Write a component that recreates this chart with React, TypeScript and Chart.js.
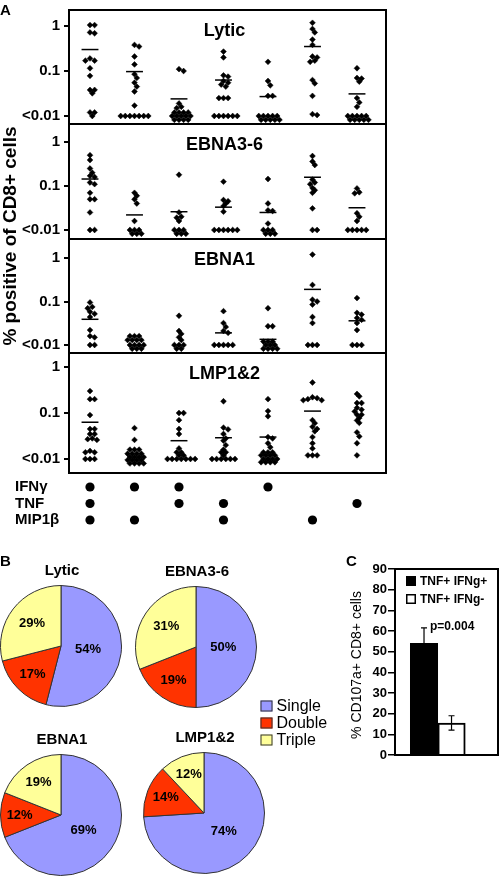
import React, { useEffect, useRef } from 'react';
import { Chart, registerables } from 'chart.js';

Chart.register(...registerables);

const FONT = "'Liberation Sans', Arial, Helvetica, sans-serif";

// ================= Panel A data =================
const columnIds = [0, 1, 2, 3, 4, 5, 6];
const panelTitles = ['Lytic', 'EBNA3-6', 'EBNA1', 'LMP1&2'];

const lyticValues: number[][] = [
  [1.05, 1.05, 0.72, 0.69, 0.19, 0.17, 0.17, 0.115, 0.078, 0.038, 0.038, 0.032, 0.012, 0.012, 0.01],
  [0.38, 0.35, 0.21, 0.14, 0.085, 0.07, 0.055, 0.045, 0.035, 0.017, 0.01, 0.01, 0.01, 0.01, 0.01, 0.01, 0.01],
  [0.11, 0.1, 0.019, 0.016, 0.015, 0.012, 0.012, 0.012, 0.012, 0.01, 0.01, 0.01, 0.01, 0.01, 0.0082, 0.0082, 0.0082, 0.0082],
  [0.27, 0.2, 0.08, 0.075, 0.06, 0.055, 0.05, 0.045, 0.025, 0.025, 0.025, 0.01, 0.01, 0.01, 0.01, 0.01, 0.01],
  [0.16, 0.06, 0.048, 0.028, 0.028, 0.01, 0.01, 0.01, 0.01, 0.01, 0.0082, 0.0082, 0.0082, 0.0082, 0.0082],
  [1.18, 0.86, 0.72, 0.5, 0.38, 0.21, 0.2, 0.17, 0.16, 0.063, 0.053, 0.028, 0.011, 0.0105],
  [0.115, 0.07, 0.068, 0.058, 0.025, 0.02, 0.016, 0.01, 0.01, 0.01, 0.01, 0.01, 0.0082, 0.0082, 0.0082, 0.0082, 0.0082],
];
const lyticMeans = [0.3, 0.097, 0.024, 0.063, 0.027, 0.35, 0.031];

const ebna36Values: number[][] = [
  [0.5, 0.39, 0.25, 0.2, 0.17, 0.16, 0.12, 0.11, 0.07, 0.05, 0.05, 0.025, 0.01, 0.01],
  [0.07, 0.06, 0.05, 0.04, 0.016, 0.01, 0.01, 0.01, 0.0082, 0.0082, 0.0082],
  [0.18, 0.025, 0.02, 0.019, 0.016, 0.01, 0.01, 0.01, 0.0082, 0.0082, 0.0082],
  [0.125, 0.048, 0.045, 0.04, 0.035, 0.026, 0.01, 0.01, 0.01, 0.01, 0.01, 0.01],
  [0.144, 0.04, 0.028, 0.027, 0.014, 0.01, 0.01, 0.01, 0.0082, 0.0082, 0.0082],
  [0.48, 0.36, 0.3, 0.14, 0.12, 0.11, 0.09, 0.08, 0.07, 0.031, 0.01, 0.01],
  [0.088, 0.072, 0.068, 0.024, 0.02, 0.016, 0.01, 0.01, 0.01, 0.01, 0.01],
];
const ebna36Means = [0.144, 0.022, 0.026, 0.033, 0.025, 0.158, 0.032];

const ebna1Values: number[][] = [
  [0.095, 0.075, 0.07, 0.058, 0.052, 0.044, 0.022, 0.016, 0.015, 0.01, 0.01],
  [0.016, 0.016, 0.016, 0.013, 0.013, 0.013, 0.013, 0.01, 0.01, 0.01, 0.01, 0.0082, 0.0082, 0.0082],
  [0.047, 0.021, 0.018, 0.015, 0.013, 0.01, 0.01, 0.01, 0.0082, 0.0082],
  [0.06, 0.032, 0.026, 0.021, 0.019, 0.01, 0.01, 0.01, 0.01, 0.01],
  [0.07, 0.027, 0.027, 0.012, 0.012, 0.012, 0.01, 0.01, 0.01, 0.0082, 0.0082, 0.0082, 0.0082],
  [1.2, 0.24, 0.11, 0.1, 0.085, 0.044, 0.032, 0.01, 0.01, 0.01],
  [0.12, 0.055, 0.05, 0.042, 0.038, 0.032, 0.022, 0.01, 0.01, 0.01],
];
const ebna1Means: (number | null)[] = [0.039, null, null, 0.019, 0.0135, 0.19, 0.036];

const lmpValues: number[][] = [
  [0.3, 0.2, 0.2, 0.09, 0.045, 0.045, 0.035, 0.035, 0.028, 0.027, 0.026, 0.015, 0.014, 0.014, 0.01, 0.01, 0.01],
  [0.047, 0.026, 0.016, 0.016, 0.016, 0.013, 0.013, 0.013, 0.013, 0.011, 0.011, 0.011, 0.011, 0.0095, 0.0095, 0.0095, 0.0095, 0.008, 0.008, 0.008, 0.008],
  [0.1, 0.1, 0.07, 0.045, 0.035, 0.017, 0.014, 0.014, 0.012, 0.012, 0.01, 0.01, 0.01, 0.01, 0.01, 0.01, 0.01],
  [0.18, 0.048, 0.044, 0.035, 0.028, 0.025, 0.02, 0.016, 0.014, 0.014, 0.012, 0.01, 0.01, 0.01, 0.01, 0.01, 0.01],
  [0.2, 0.11, 0.085, 0.03, 0.028, 0.022, 0.018, 0.014, 0.014, 0.014, 0.012, 0.012, 0.012, 0.012, 0.01, 0.01, 0.01, 0.01, 0.0085, 0.0085, 0.0085, 0.0085],
  [0.46, 0.22, 0.21, 0.2, 0.19, 0.19, 0.07, 0.06, 0.05, 0.045, 0.04, 0.03, 0.022, 0.017, 0.012, 0.012, 0.012],
  [0.26, 0.23, 0.165, 0.165, 0.13, 0.118, 0.108, 0.092, 0.092, 0.078, 0.069, 0.061, 0.038, 0.031, 0.022, 0.012],
];
const lmpMeans: (number | null)[] = [0.063, null, 0.025, 0.029, 0.03, 0.11, null];

const yTickValues = [0.01, 0.1, 1];
const yTickLabels = ['<0.01', '0.1', '1'];

// cytokine matrix below panel A
const cytokineNames = ['IFNγ', 'TNF', 'MIP1β'];
const ifngPresent = [1, 1, 1, 0, 1, 0, 0];
const tnfPresent = [1, 0, 1, 1, 0, 0, 1];
const mip1bPresent = [1, 1, 0, 1, 0, 1, 0];

// ================= Panel B data =================
const pieTitles = ['Lytic', 'EBNA3-6', 'EBNA1', 'LMP1&2'];
const fractionLabels = ['Single', 'Double', 'Triple'];
const singlePct = [54, 50, 69, 74];
const doublePct = [17, 19, 12, 14];
const triplePct = [29, 31, 19, 12];
const fractionColors = ['#9999ff', '#ff3300', '#ffff99'];

// ================= Panel C data =================
const barLabels = ['TNF+ IFNg+', 'TNF+ IFNg-'];
const barValues = [54, 15.5];
const barErrors = [7.5, 3.5];
const pValueText = 'p=0.004';

// ================= layout =================
const panelValues = [lyticValues, ebna36Values, ebna1Values, lmpValues];
const panelMeans = [lyticMeans, ebna36Means, ebna1Means, lmpMeans];
const PANEL_TOP = [10, 124, 239, 353];
const PANEL_BOTTOM = [124, 239, 353, 473];
const panelLogMax = [0.356, 0.409, 0.437, 0.304];
const panelLogMin = [-2.178, -2.205, -2.184, -2.304];
const X_MIN = -0.472;
const X_MAX = 6.652;
const PLOT_LEFT = 69;
const PLOT_RIGHT = 386;
const A_CANVAS_W = 400;
const A_PAD = 14;
const HALF_STEP = 2.3;
const MIN_SEP = 4.5;

const PIE_CENTERS = [
  [61, 646],
  [195.5, 646.5],
  [61, 815],
  [204, 813],
];
const PIE_HALF = 61;

function swarm(values: number[][], logMin: number, logMax: number, height: number) {
  const pxPerDecade = height / (logMax - logMin);
  const pxPerX = (PLOT_RIGHT - PLOT_LEFT) / (X_MAX - X_MIN);
  const pts: { x: number; y: number }[] = [];
  values.forEach((col, i) => {
    const placed: { dx: number; py: number }[] = [];
    [...col]
      .sort((a, b) => b - a)
      .forEach((v) => {
        const py = -Math.log10(v) * pxPerDecade;
        let dx = 0;
        for (let n = 0; n < 100; n++) {
          const c = n === 0 ? 0 : (n % 2 ? 1 : -1) * Math.ceil(n / 2) * HALF_STEP;
          if (placed.every((q) => Math.abs(q.dx - c) + Math.abs(q.py - py) >= MIN_SEP)) {
            dx = c;
            break;
          }
        }
        placed.push({ dx, py });
        pts.push({ x: columnIds[i] + dx / pxPerX, y: v });
      });
  });
  return pts;
}

function tickLabel(v: number) {
  const idx = yTickValues.findIndex((t) => Math.abs(Math.log10(t) - Math.log10(v)) < 1e-6);
  return idx < 0 ? '' : yTickLabels[idx];
}

const baseOpts = {
  responsive: false,
  animation: false as const,
  devicePixelRatio: 1,
  events: [] as any[],
};

function panelAConfig(p: number): any {
  const top = PANEL_TOP[p];
  const h = PANEL_BOTTOM[p] - top;
  const pts = swarm(panelValues[p], panelLogMin[p], panelLogMax[p], h);
  const datasets: any[] = [
    {
      type: 'scatter',
      data: pts,
      pointStyle: 'rectRot',
      pointRadius: 2.9,
      pointBackgroundColor: '#000',
      pointBorderColor: '#000',
      pointBorderWidth: 0.5,
      order: 0,
      clip: false,
    },
  ];
  panelMeans[p].forEach((m, i) => {
    if (m == null) return;
    datasets.push({
      type: 'line',
      data: [
        { x: columnIds[i] - 0.19, y: m },
        { x: columnIds[i] + 0.19, y: m },
      ],
      borderColor: '#000',
      borderWidth: 1.5,
      pointRadius: 0,
      order: 1,
      clip: false,
    });
  });
  const title = panelTitles[p];
  return {
    type: 'scatter',
    data: { datasets },
    options: {
      ...baseOpts,
      layout: { padding: { left: 0, right: A_CANVAS_W - PLOT_RIGHT, top: A_PAD, bottom: A_PAD } },
      plugins: { legend: { display: false }, tooltip: { enabled: false }, title: { display: false } },
      scales: {
        x: { type: 'linear', min: X_MIN, max: X_MAX, display: false },
        y: {
          type: 'logarithmic',
          min: Math.pow(10, panelLogMin[p]),
          max: Math.pow(10, panelLogMax[p]),
          afterBuildTicks: (s: any) => {
            s.ticks = yTickValues.map((v) => ({ value: v }));
          },
          afterFit: (s: any) => {
            s.width = PLOT_LEFT;
          },
          ticks: {
            callback: (v: any) => tickLabel(Number(v)),
            font: { family: FONT, size: 15, weight: 'bold' },
            color: '#000',
            padding: 4,
            autoSkip: false,
          },
          grid: { drawOnChartArea: false, drawTicks: true, tickLength: 5, color: '#000', lineWidth: 2 },
          border: { display: false },
        },
      },
    },
    plugins: [
      {
        id: 'panelBox',
        afterDraw(chart: any) {
          const { ctx, chartArea } = chart;
          const { left, right, top: t, bottom } = chartArea;
          ctx.save();
          ctx.strokeStyle = '#000';
          ctx.lineWidth = 2;
          ctx.strokeRect(left, t, right - left, bottom - t);
          ctx.fillStyle = '#000';
          ctx.font = `bold 18px ${FONT}`;
          ctx.textAlign = 'center';
          ctx.textBaseline = 'alphabetic';
          ctx.fillText(title, (left + right) / 2 - 3, t + 26);
          ctx.restore();
        },
      },
    ],
  };
}

function dotConfig(): any {
  const rows = [ifngPresent, tnfPresent, mip1bPresent];
  const pts: { x: number; y: number }[] = [];
  rows.forEach((row, r) => {
    row.forEach((on, c) => {
      if (on) pts.push({ x: columnIds[c], y: r });
    });
  });
  return {
    type: 'scatter',
    data: {
      datasets: [
        {
          data: pts,
          pointStyle: 'circle',
          pointRadius: 4.6,
          pointBackgroundColor: '#000',
          pointBorderColor: '#000',
          pointBorderWidth: 0,
          clip: false,
        },
      ],
    },
    options: {
      ...baseOpts,
      layout: { padding: { left: 15, right: A_CANVAS_W - PLOT_RIGHT, top: 23.75, bottom: 21.75 } },
      plugins: { legend: { display: false }, tooltip: { enabled: false } },
      scales: {
        x: { type: 'linear', min: X_MIN, max: X_MAX, display: false },
        y: {
          type: 'linear',
          reverse: true,
          min: -0.5,
          max: 2.5,
          afterBuildTicks: (s: any) => {
            s.ticks = cytokineNames.map((_, i) => ({ value: i }));
          },
          afterFit: (s: any) => {
            s.width = PLOT_LEFT - 15;
          },
          ticks: {
            callback: (v: any) => cytokineNames[Math.round(Number(v))] ?? '',
            crossAlign: 'far',
            font: { family: FONT, size: 15, weight: 'bold' },
            color: '#000',
            padding: 0,
            autoSkip: false,
          },
          grid: { display: false },
          border: { display: false },
        },
      },
    },
  };
}

function pieConfig(i: number): any {
  const withLegend = i === 1;
  const title = pieTitles[i];
  const plugins: any[] = [
    {
      id: 'pieText',
      afterDatasetsDraw(chart: any) {
        const { ctx, chartArea } = chart;
        ctx.save();
        ctx.fillStyle = '#000';
        ctx.font = `bold 15px ${FONT}`;
        ctx.textAlign = 'center';
        ctx.textBaseline = 'alphabetic';
        ctx.fillText(title, (chartArea.left + chartArea.right) / 2 + 1, chartArea.top - 10);
        const meta = chart.getDatasetMeta(0);
        const vals = chart.data.datasets[0].data as number[];
        ctx.font = `bold 13px ${FONT}`;
        ctx.textBaseline = 'middle';
        meta.data.forEach((el: any, k: number) => {
          const { startAngle, endAngle, outerRadius, x, y } = el.getProps(
            ['startAngle', 'endAngle', 'outerRadius', 'x', 'y'],
            true
          );
          const a = endAngle - startAngle;
          const mid = (startAngle + endAngle) / 2;
          let f = ((4 * Math.sin(a / 2)) / (3 * a)) * 1.05;
          f = Math.min(0.7, Math.max(0.45, f));
          const d = f * outerRadius;
          ctx.fillText(vals[k] + '%', x + Math.cos(mid) * d, y + Math.sin(mid) * d);
        });
        if (withLegend) {
          const lx = chartArea.right + 3.5;
          const ly = chartArea.top + 120;
          ctx.font = `16px ${FONT}`;
          ctx.textAlign = 'left';
          fractionLabels.forEach((lab, k) => {
            const cy = ly + k * 17;
            ctx.fillStyle = fractionColors[k];
            ctx.fillRect(lx, cy - 5.5, 12, 11);
            ctx.strokeStyle = '#333';
            ctx.lineWidth = 1;
            ctx.strokeRect(lx + 0.5, cy - 5, 11, 10);
            ctx.fillStyle = '#000';
            ctx.fillText(lab, lx + 16, cy + 1);
          });
        }
        ctx.restore();
      },
    },
  ];
  return {
    type: 'pie',
    data: {
      labels: fractionLabels,
      datasets: [
        {
          data: [singlePct[i], doublePct[i], triplePct[i]],
          backgroundColor: fractionColors,
          borderColor: '#333',
          borderWidth: 1,
        },
      ],
    },
    options: {
      ...baseOpts,
      layout: { padding: { left: 5, right: withLegend ? 80 : 5, top: 30, bottom: withLegend ? 45 : 5 } },
      plugins: { legend: { display: false }, tooltip: { enabled: false } },
    },
    plugins,
  };
}

function barConfig(): any {
  return {
    type: 'bar',
    data: {
      datasets: [
        {
          data: barValues.map((v, i) => ({ x: i + 1, y: v })),
          backgroundColor: ['#000', '#fff'],
          borderColor: '#000',
          borderWidth: 2,
          barPercentage: 1,
          categoryPercentage: 1,
        },
      ],
    },
    options: {
      ...baseOpts,
      layout: { padding: { left: 0, right: 2, top: 24, bottom: 20 } },
      plugins: { legend: { display: false }, tooltip: { enabled: false } },
      scales: {
        x: { type: 'linear', min: -0.055, max: 3.69, offset: false, display: false },
        y: {
          type: 'linear',
          min: 0,
          max: 90,
          afterFit: (s: any) => {
            s.width = 55;
          },
          ticks: {
            stepSize: 10,
            font: { family: FONT, size: 13, weight: 'bold' },
            color: '#000',
            padding: 1,
          },
          grid: { drawOnChartArea: false, drawTicks: true, tickLength: 7, color: '#000', lineWidth: 1.5 },
          border: { display: false },
        },
      },
    },
    plugins: [
      {
        id: 'barExtras',
        afterDatasetsDraw(chart: any) {
          const { ctx, chartArea } = chart;
          const ys = chart.scales.y;
          const meta = chart.getDatasetMeta(0);
          ctx.save();
          ctx.strokeStyle = '#000';
          ctx.lineWidth = 1.2;
          meta.data.forEach((el: any, i: number) => {
            const yt = ys.getPixelForValue(barValues[i] + barErrors[i]);
            const yb = ys.getPixelForValue(barValues[i] - barErrors[i]);
            ctx.beginPath();
            ctx.moveTo(el.x, yt);
            ctx.lineTo(el.x, yb);
            ctx.moveTo(el.x - 3, yt);
            ctx.lineTo(el.x + 3, yt);
            ctx.moveTo(el.x - 3, yb);
            ctx.lineTo(el.x + 3, yb);
            ctx.stroke();
          });
          // p value
          const b0 = meta.data[0];
          const yTop0 = ys.getPixelForValue(barValues[0] + barErrors[0]);
          ctx.fillStyle = '#000';
          ctx.font = `bold 12px ${FONT}`;
          ctx.textAlign = 'left';
          ctx.textBaseline = 'middle';
          ctx.fillText(pValueText, b0.x + 6, yTop0 - 1);
          // legend
          barLabels.forEach((lab, k) => {
            const cy = chartArea.top + 12 + k * 18;
            const sx = chartArea.left + 11;
            if (k === 0) {
              ctx.fillStyle = '#000';
              ctx.fillRect(sx, cy - 5, 10, 10);
            } else {
              ctx.fillStyle = '#fff';
              ctx.fillRect(sx, cy - 5, 10, 10);
              ctx.lineWidth = 1.5;
              ctx.strokeRect(sx + 0.75, cy - 4.25, 8.5, 8.5);
            }
            ctx.fillStyle = '#000';
            ctx.fillText(lab, sx + 14, cy + 0.5);
          });
          // box
          ctx.lineWidth = 2;
          ctx.strokeRect(chartArea.left, chartArea.top, chartArea.right - chartArea.left, chartArea.bottom - chartArea.top);
          // y title
          ctx.translate(chartArea.left - 38, (chartArea.top + chartArea.bottom) / 2 + 3);
          ctx.rotate(-Math.PI / 2);
          ctx.font = `14px ${FONT}`;
          ctx.textAlign = 'center';
          ctx.fillText('% CD107a+ CD8+ cells', 0, 0);
          ctx.restore();
        },
      },
    ],
  };
}

const abs = (left: number, top: number, w: number, h: number): React.CSSProperties => ({
  position: 'absolute',
  left,
  top,
  width: w,
  height: h,
});

export default function App() {
  const aRefs = [
    useRef<HTMLCanvasElement>(null),
    useRef<HTMLCanvasElement>(null),
    useRef<HTMLCanvasElement>(null),
    useRef<HTMLCanvasElement>(null),
  ];
  const dotRef = useRef<HTMLCanvasElement>(null);
  const pieRefs = [
    useRef<HTMLCanvasElement>(null),
    useRef<HTMLCanvasElement>(null),
    useRef<HTMLCanvasElement>(null),
    useRef<HTMLCanvasElement>(null),
  ];
  const barRef = useRef<HTMLCanvasElement>(null);

  useEffect(() => {
    Chart.defaults.font.family = FONT;
    Chart.defaults.color = '#000';
    const charts: Chart[] = [];
    aRefs.forEach((r, p) => {
      if (r.current) charts.push(new Chart(r.current, panelAConfig(p)));
    });
    if (dotRef.current) charts.push(new Chart(dotRef.current, dotConfig()));
    pieRefs.forEach((r, i) => {
      if (r.current) charts.push(new Chart(r.current, pieConfig(i)));
    });
    if (barRef.current) charts.push(new Chart(barRef.current, barConfig()));
    return () => charts.forEach((c) => c.destroy());
  }, []);

  const textBase: React.CSSProperties = {
    position: 'absolute',
    fontFamily: FONT,
    fontWeight: 'bold',
    color: '#000',
    whiteSpace: 'nowrap',
  };

  return (
    <div
      style={{
        position: 'fixed',
        left: 0,
        top: 0,
        width: 500,
        height: 878,
        overflow: 'hidden',
        background: '#fff',
      }}
    >
      {aRefs.map((r, p) => {
        const h = PANEL_BOTTOM[p] - PANEL_TOP[p] + 2 * A_PAD;
        return (
          <canvas
            key={'a' + p}
            ref={r}
            width={A_CANVAS_W}
            height={h}
            style={abs(0, PANEL_TOP[p] - A_PAD, A_CANVAS_W, h)}
          />
        );
      })}
      <canvas ref={dotRef} width={A_CANVAS_W} height={95} style={abs(0, 455, A_CANVAS_W, 95)} />
      {pieRefs.map((r, i) => {
        const [cx, cy] = PIE_CENTERS[i];
        const w = 2 * PIE_HALF + 10 + (i === 1 ? 75 : 0);
        const h = 2 * PIE_HALF + 35 + (i === 1 ? 40 : 0);
        return (
          <canvas
            key={'p' + i}
            ref={r}
            width={w}
            height={h}
            style={abs(cx - PIE_HALF - 5, cy - PIE_HALF - 30, w, h)}
          />
        );
      })}
      <canvas ref={barRef} width={160} height={230} style={abs(340, 545, 160, 230)} />

      <div style={{ ...textBase, left: 0, top: 1.5, fontSize: 15, lineHeight: '15px' }}>A</div>
      <div style={{ ...textBase, left: 0, top: 553, fontSize: 15, lineHeight: '15px' }}>B</div>
      <div style={{ ...textBase, left: 346, top: 553, fontSize: 15, lineHeight: '15px' }}>C</div>
      <div
        style={{
          ...textBase,
          left: 9,
          top: 236,
          fontSize: 19,
          lineHeight: '19px',
          transform: 'translate(-50%, -50%) rotate(-90deg)',
        }}
      >
        % positive of CD8+ cells
      </div>
    </div>
  );
}
